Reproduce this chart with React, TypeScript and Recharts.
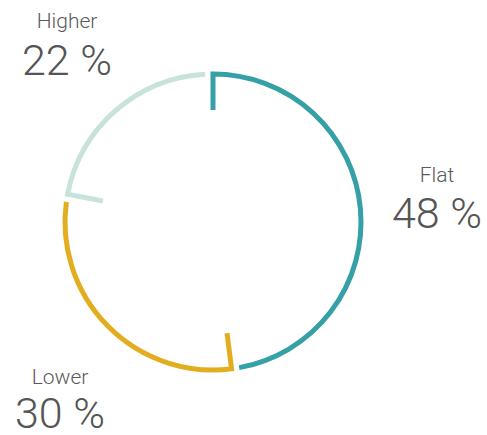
import { Pie, PieChart } from 'recharts';

const categories = ['Flat', 'Lower', 'Higher'];
const shares = [48, 30, 22];
const colors = ['#35a0a6', '#e2ad1f', '#c8e2dc'];

const data = categories.map((name, i) => ({ name, value: shares[i], fill: colors[i] }));

// label block placement: centre x, baseline of name, baseline of number
const labelPos: Record<string, { x: number; y: number; ny: number }> = {
  Flat: { x: 437, y: 182, ny: 228 },
  Higher: { x: 67, y: 28, ny: 75 },
  Lower: { x: 60, y: 384, ny: 428 },
};

const RAD = Math.PI / 180;
const GAP = 3; // degrees trimmed at the end of each arc
const TICK = 36;

function polar(cx: number, cy: number, r: number, angle: number) {
  return [cx + r * Math.cos(-angle * RAD), cy + r * Math.sin(-angle * RAD)];
}

function RingSegment(props: any) {
  const { cx, cy, startAngle, endAngle, innerRadius, outerRadius, fill } = props;
  const r = (innerRadius + outerRadius) / 2;
  const end = endAngle + GAP;
  const [tx, ty] = polar(cx, cy, r - TICK, startAngle);
  const [sx, sy] = polar(cx, cy, r, startAngle);
  const [ex, ey] = polar(cx, cy, r, end);
  const large = Math.abs(startAngle - end) > 180 ? 1 : 0;
  const d = `M${tx},${ty} L${sx},${sy} A${r},${r} 0 ${large} 1 ${ex},${ey}`;
  return (
    <path d={d} fill="none" stroke={fill} strokeWidth={5} strokeLinejoin="miter" strokeLinecap="butt" />
  );
}

function renderLabel(props: any) {
  const { name, value } = props;
  const pos = labelPos[name];
  if (!pos) return null;
  return (
    <g>
      <text x={pos.x} y={pos.y} textAnchor="middle" fill="#5a5a5a" fontSize={21} fontWeight={300}>
        {name}
      </text>
      <text x={pos.x} y={pos.ny} textAnchor="middle" fill="#555" fontSize={43} fontWeight={300}>
        {`${value} %`}
      </text>
    </g>
  );
}

export default function App() {
  return (
    <div
      style={{
        position: 'absolute',
        left: 0,
        top: 0,
        width: 487,
        height: 435,
        background: '#fff',
        fontFamily: 'Roboto, "Open Sans", sans-serif',
      }}
    >
      <PieChart width={487} height={435} margin={{ top: 0, right: 0, bottom: 0, left: 0 }}>
        <Pie
          data={data}
          dataKey="value"
          nameKey="name"
          cx={213}
          cy={222}
          innerRadius={146}
          outerRadius={150}
          startAngle={90}
          endAngle={-270}
          paddingAngle={0}
          stroke="none"
          shape={RingSegment}
          activeShape={RingSegment}
          inactiveShape={RingSegment}
          label={renderLabel}
          labelLine={false}
          isAnimationActive={false}
        />
      </PieChart>
    </div>
  );
}
